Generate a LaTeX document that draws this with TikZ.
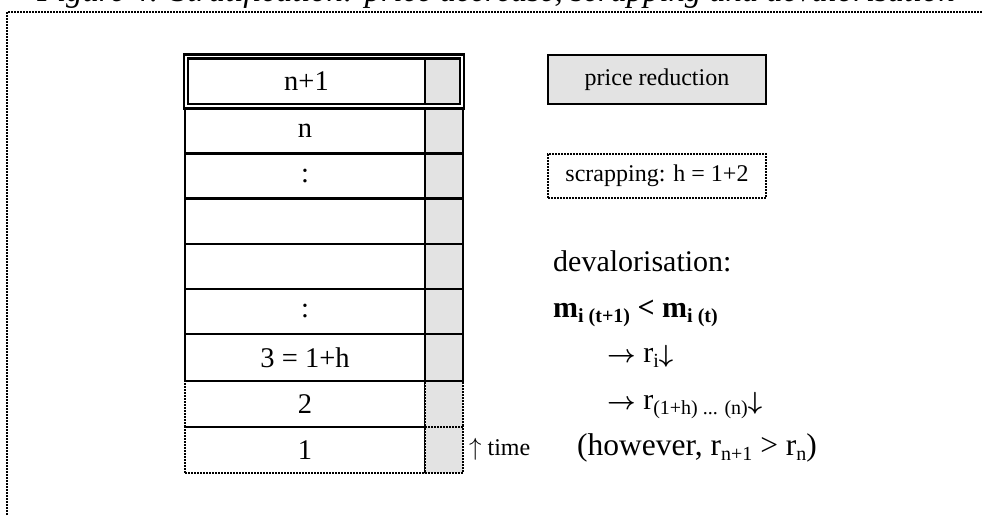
\documentclass[tikz,border=0pt]{standalone}
\usepackage{fontspec}
\setmainfont{Liberation Serif}
\definecolor{cellgray}{HTML}{E3E3E3}
\newcommand{\lowtext}[1]{\raisebox{-0.17em}{\fontsize{20}{20}\selectfont #1}}
\newcommand{\rarr}{{\boldmath$\rightarrow$}}
\newcommand{\darr}{{\boldmath$\downarrow$}}
\begin{document}
\begin{tikzpicture}[x=1pt,y=-1pt,
  lcell/.style={draw, line width=2.8pt, inner sep=0pt, outer sep=0pt, minimum width=240pt, font=\fontsize{28.5}{30}\selectfont},
  rcell/.style={draw, line width=2.8pt, inner sep=0pt, outer sep=0pt, minimum width=38pt, fill=cellgray},
  dotcell/.style={dash pattern=on 2pt off 1pt, line width=1.8pt},
  framedot/.style={draw, dash pattern=on 2pt off 1pt, line width=1.6pt},
  rtext/.style={anchor=base west, inner sep=0pt, font=\fontsize{30}{32}\selectfont},
  boxtext/.style={font=\fontsize{24}{26}\selectfont, inner sep=0pt, minimum width=218pt}
]
\useasboundingbox (0,0) rectangle (983,516);
\clip (0,0) rectangle (983,516);
% title (cut off at top)
\node[anchor=base, inner sep=0pt, font=\itshape\fontsize{32.6}{34}\selectfont] (title) at (496,2) {Figure 4: Stratification: price decrease, scrapping and devalorisation};
% frame
\coordinate (fbl) at (7,530);
\coordinate (ftl) at (7,12);
\coordinate (ftr) at (990,12);
\draw[framedot] (fbl) -- (ftl) -- (ftr);
% dotted rows
\node[lcell, dotcell, minimum height=46pt] (l1) at (305,450) {1};
\node[rcell, dotcell, minimum height=46pt] (g1) at (444,450) {};
\node[lcell, dotcell, minimum height=46pt] (l2) at (305,404) {2};
\node[rcell, dotcell, minimum height=46pt] (g2) at (444,404) {};
% solid rows
\node[lcell, minimum height=47pt] (l3) at (305,357.5) {3 = 1+h};
\node[rcell, minimum height=47pt] (g3) at (444,357.5) {};
\node[lcell, minimum height=45pt] (l4) at (305,311.5) {:};
\node[rcell, minimum height=45pt] (g4) at (444,311.5) {};
\node[lcell, minimum height=45pt] (l5) at (305,266.5) {};
\node[rcell, minimum height=45pt] (g5) at (444,266.5) {};
\node[lcell, minimum height=45pt] (l6) at (305,221.5) {};
\node[rcell, minimum height=45pt] (g6) at (444,221.5) {};
\node[lcell, minimum height=45pt] (l7) at (305,176) {:};
\node[rcell, minimum height=45pt] (g7) at (444,176) {};
\node[lcell, minimum height=45pt] (l8) at (305,131) {n};
\node[rcell, minimum height=45pt] (g8) at (444,131) {};
% top row with double border
\node[draw, line width=2.2pt, inner sep=0pt, minimum width=280pt, minimum height=54pt] (outer) at (324,81.5) {};
\node[lcell, line width=2.2pt, minimum width=237pt, minimum height=45.5pt] (l9) at (306.5,81.25) {n+1};
\node[rcell, line width=2.2pt, minimum width=35pt, minimum height=45.5pt] (g9) at (442.5,81.25) {};
% right boxes
\node[boxtext, draw, line width=2.8pt, fill=cellgray, minimum height=49pt] (price) at (657,79.5) {price reduction};
\node[boxtext, framedot, minimum height=44pt] (scrap) at (657,176) {scrapping: h = 1+2};
% right text
\node[rtext] (deval) at (553,271) {devalorisation:};
\node[rtext, font=\fontsize{30}{32}\selectfont\bfseries] (mline) at (553,317) {m\lowtext{i (t+1)} < m\lowtext{i (t)}};
\node[rtext] (ri) at (607,362) {\rarr\ r\lowtext{i}\darr};
\node[rtext] (rh) at (607,409) {\rarr\ r\lowtext{(1+h) ... (n)}\darr};
\node[rtext, font=\fontsize{31.5}{34}\selectfont] (how) at (577,455) {(however, r\lowtext{n+1} > r\lowtext{n})};
\node[anchor=base west, inner sep=0pt, font=\fontsize{24}{26}\selectfont] (time) at (469,455) {$\uparrow$ time};
\end{tikzpicture}
\end{document}
